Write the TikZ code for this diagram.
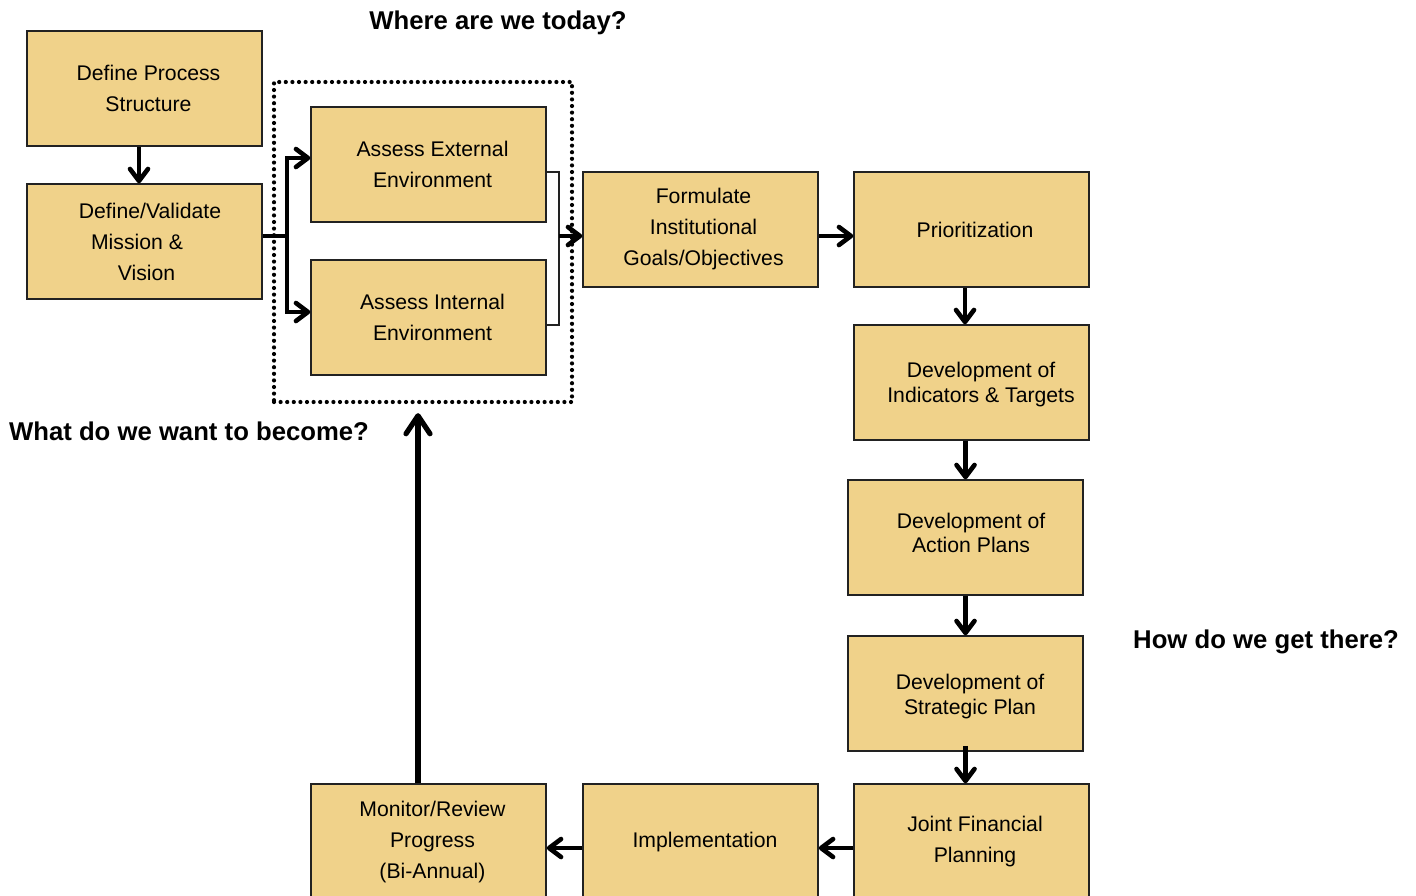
\documentclass[tikz,border=0pt]{standalone}
\usepackage{fontspec}
\setmainfont{Liberation Sans}
\usetikzlibrary{arrows.meta}
\definecolor{boxfill}{HTML}{F0D28A}
\definecolor{boxline}{HTML}{222222}
\begin{document}
\begin{tikzpicture}[x=0.5pt,y=-0.5pt,
  stepbox/.style={draw=boxline,line width=0.75pt,fill=boxfill,minimum width=117.5pt,minimum height=57.5pt,inner sep=0pt},
  boxtext/.style={inner sep=0pt,align=center,font=\fontsize{10.6}{15.5}\selectfont},
  tighttext/.style={boxtext,font=\fontsize{10.6}{12.2}\selectfont},
  heading/.style={font=\fontsize{12.85}{14}\selectfont\bfseries,inner sep=0pt},
  arr/.style={line width=2.3pt,-{Straight Barb[length=6pt,width=9pt,line width=2.3pt,round]}},
  bigarr/.style={line width=2.6pt,-{Straight Barb[length=9pt,width=12pt,line width=2.6pt,round]}},
  plain/.style={line width=2pt},
  thinline/.style={line width=0.6pt,draw=boxline}]
\useasboundingbox (0,0) rectangle (1416,895);
\clip (0,0) rectangle (1416,895);
\fill[white] (0,0) rectangle (1416,895);

% dotted group
\node[draw,line width=2.1pt,dash pattern=on 0pt off 3.3pt,line cap=round,minimum width=149pt,minimum height=160pt,inner sep=0pt] (today) at (423,242) {};

% boxes
\node[stepbox] (dps) at (144.5,88.5) {};
\node[stepbox] (dvm) at (144.5,241.5) {};
\node[stepbox] (aee) at (428.5,164.5) {};
\node[stepbox] (aie) at (428.5,317.5) {};
\node[stepbox] (fig) at (700.5,229.5) {};
\node[stepbox] (prio) at (971.5,229.5) {};
\node[stepbox] (dit) at (971.5,382.5) {};
\node[stepbox] (dap) at (965.5,537.5) {};
\node[stepbox] (dsp) at (965.5,693.5) {};
\node[stepbox] (jfp) at (971.5,841.5) {};
\node[stepbox] (impl) at (700.5,841.5) {};
\node[stepbox] (mrp) at (428.5,841.5) {};

% box texts
\node[boxtext] (tdps) at ([xshift=2pt]dps.center) {Define Process\\Structure};
\node[boxtext] (tdvm) at ([xshift=1pt]dvm.center) {\makebox[3.5pt]{}Define/Validate\\Mission \&\makebox[9.5pt]{}\\Vision};
\node[boxtext] (taee) at ([xshift=2pt]aee.center) {Assess External\\Environment};
\node[boxtext] (taie) at ([xshift=2pt]aie.center) {Assess Internal\\Environment};
\node[boxtext] (tfig) at ([xshift=1.5pt]fig.center) {Formulate\\Institutional\\Goals/Objectives};
\node[boxtext] (tprio) at ([xshift=1.75pt]prio.center) {Prioritization};
\node[tighttext] (tdit) at ([xshift=4.75pt,yshift=-1pt]dit.center) {Development of\\Indicators \& Targets};
\node[tighttext] (tdap) at ([xshift=2.75pt,yshift=2.25pt]dap.center) {Development of\\Action Plans};
\node[tighttext] (tdsp) at ([xshift=2.25pt,yshift=-1.5pt]dsp.center) {Development of\\Strategic Plan};
\node[boxtext] (tjfp) at ([xshift=1.75pt]jfp.center) {Joint Financial\\Planning};
\node[boxtext] (timpl) at ([xshift=2.25pt]impl.center) {Implementation};
\node[boxtext] (tmrp) at ([xshift=2pt]mrp.center) {Monitor/Review\\Progress\\(Bi-Annual)};

% headings
\node[heading] (h1) at (498,23) {Where are we today?};
\node[heading] (h2) at (189,431) {What do we want to become?};
\node[heading] (h3) at (1266,642) {How do we get there?};

% connectors
\draw[arr] ([xshift=-2.75pt]dps.south) -- ([xshift=-2.75pt]dvm.north);
\coordinate (split) at (287,236);
\draw[plain] ([yshift=2.75pt]dvm.east) -- (split);
\draw[arr] (split) |- ([yshift=3.25pt]aee.west);
\draw[arr] (split) |- ([yshift=2.75pt]aie.west);
\coordinate (join) at (559,236);
\draw[thinline] ([yshift=-3.75pt]aee.east) -| (join) |- ([yshift=-3.75pt]aie.east);
\draw[arr] (join) -- (fig.west |- join);
\draw[arr] (fig.east |- join) -- (prio.west |- join);
\draw[arr] ([xshift=-3.25pt]prio.south) -- ([xshift=-3.25pt]dit.north);
\draw[arr] (dap.north |- dit.south) -- (dap.north);
\draw[arr] (dap.south) -- (dsp.north);
\draw[arr] ([yshift=3pt]dsp.south) -- (dsp.south |- jfp.north);
\draw[arr] ([yshift=-3.25pt]jfp.west) -- ([yshift=-3.25pt]impl.east);
\draw[arr] ([yshift=-3.25pt]impl.west) -- ([yshift=-3.25pt]mrp.east);
\coordinate (up) at ([xshift=-5.25pt]mrp.north);
\draw[bigarr,shorten >=4.5pt] (up) -- (up |- today.south);
\end{tikzpicture}
\end{document}
